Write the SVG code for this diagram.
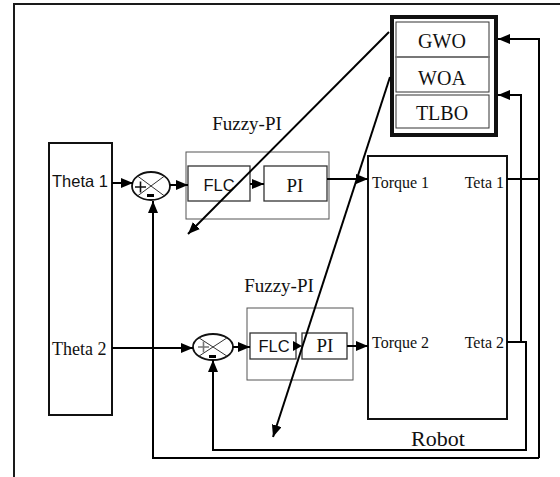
<svg xmlns="http://www.w3.org/2000/svg" width="560" height="477" viewBox="0 0 560 477">
<style>
.serif{font-family:"Liberation Serif","Times New Roman",serif;fill:#111}
.sans{font-family:"Liberation Sans",Arial,sans-serif;fill:#111}
.conn{fill:none;stroke:#000;stroke-width:2}
.box{fill:#fff;stroke:#333;stroke-width:1.3}
.cont{fill:none;stroke:#555;stroke-width:1}
.thick{fill:#fff;stroke:#111;stroke-width:2}
.sum{fill:#fff;stroke:#111;stroke-width:1.8}
.x{stroke:#333;stroke-width:1}
</style>
<defs>
<marker id="ah" viewBox="0 0 12 10" refX="12" refY="5" markerWidth="12" markerHeight="10" markerUnits="userSpaceOnUse" orient="auto">
<path d="M0,0 L12,5 L0,10 z" fill="#000"/>
</marker>
</defs>
<rect width="560" height="477" fill="#fff"/>
<path d="M14,477 V4 H560" fill="none" stroke="#1a1a1a" stroke-width="2"/>

<g id="inputs">
<rect class="thick" x="49" y="143" width="63" height="272"/>
<text class="sans" x="52" y="187" font-size="16.5">Theta 1</text>
<text class="serif" x="52" y="355" font-size="18">Theta 2</text>
</g>

<g id="sum1">
<ellipse class="sum" cx="151" cy="186" rx="19" ry="14"/>
<line class="x" x1="137.6" y1="176.1" x2="164.4" y2="195.9"/>
<line class="x" x1="164.4" y1="176.1" x2="137.6" y2="195.9"/>
<path d="M135,187 H146 M140.5,181.5 V192.5" stroke="#111" stroke-width="1.6"/>
<rect x="147" y="194" width="7" height="3" fill="#000"/>
</g>

<g id="sum2">
<ellipse class="sum" cx="213" cy="347" rx="20" ry="13"/>
<line class="x" x1="198.9" y1="337.8" x2="227.1" y2="356.2"/>
<line class="x" x1="227.1" y1="337.8" x2="198.9" y2="356.2"/>
<path d="M198,347 H209 M203.5,341.5 V352.5" stroke="#777" stroke-width="1.6"/>
<rect x="209" y="355" width="7" height="3" fill="#000"/>
</g>

<g id="fuzzypi1">
<rect class="cont" x="186" y="152" width="143" height="67"/>
<text class="serif" x="247" y="130" font-size="19" text-anchor="middle">Fuzzy-PI</text>
</g>
<g id="flc1">
<rect class="box" x="188" y="166" width="62" height="35"/>
<text class="sans" x="219" y="191" font-size="16.5" text-anchor="middle">FLC</text>
</g>
<g id="pi1">
<rect class="box" x="264" y="166" width="63" height="35"/>
<text class="serif" x="295" y="192" font-size="19" text-anchor="middle">PI</text>
</g>

<g id="fuzzypi2">
<rect class="cont" x="247" y="308" width="106" height="72"/>
<text class="serif" x="279" y="292" font-size="19" text-anchor="middle">Fuzzy-PI</text>
</g>
<g id="flc2">
<rect class="box" x="250" y="333" width="46" height="26"/>
<text class="sans" x="274" y="352" font-size="16.5" text-anchor="middle">FLC</text>
</g>
<g id="pi2">
<rect class="box" x="302" y="333" width="45" height="26"/>
<text class="serif" x="325" y="352" font-size="19" text-anchor="middle">PI</text>
</g>

<g id="robot">
<rect class="thick" x="368" y="156" width="139" height="263"/>
<text class="serif" x="372" y="188" font-size="16">Torque 1</text>
<text class="serif" x="504" y="188" font-size="16" text-anchor="end">Teta 1</text>
<text class="serif" x="372" y="348" font-size="16">Torque 2</text>
<text class="serif" x="504" y="348" font-size="16" text-anchor="end">Teta 2</text>
<text class="serif" x="438" y="446" font-size="22" text-anchor="middle">Robot</text>
</g>

<g id="optimizer">
<rect x="392" y="17" width="104" height="118" fill="#fff" stroke="#111" stroke-width="4"/>
<rect x="396" y="22" width="93" height="35" fill="none" stroke="#333" stroke-width="1"/>
<rect x="396" y="57" width="93" height="35" fill="none" stroke="#333" stroke-width="1"/>
<rect x="396" y="95" width="93" height="33" fill="none" stroke="#333" stroke-width="1"/>
<line x1="396" y1="57" x2="489" y2="57" stroke="#777" stroke-width="2"/>
<text class="serif" x="442" y="48" font-size="20" text-anchor="middle">GWO</text>
<text class="serif" x="442" y="85" font-size="20" text-anchor="middle">WOA</text>
<text class="serif" x="442" y="120" font-size="20" text-anchor="middle">TLBO</text>
</g>

<g id="connectors">
<line class="conn" x1="112" y1="183" x2="133" y2="183" marker-end="url(#ah)"/>
<line class="conn" x1="170" y1="185" x2="188" y2="185" marker-end="url(#ah)"/>
<line class="conn" x1="250" y1="184" x2="264" y2="184" marker-end="url(#ah)"/>
<line class="conn" x1="327" y1="179" x2="368" y2="179" marker-end="url(#ah)"/>
<line class="conn" x1="112" y1="348" x2="193" y2="348" marker-end="url(#ah)"/>
<line class="conn" x1="233" y1="347" x2="250" y2="347" marker-end="url(#ah)"/>
<path d="M293,341 L302,346 L293,351 z" fill="#000"/>
<line class="conn" x1="347" y1="346" x2="368" y2="346" marker-end="url(#ah)"/>
<path class="conn" d="M507,179 H539"/>
<path class="conn" d="M539,458 V39 H498" marker-end="url(#ah)"/>
<path class="conn" d="M539,458 H153 V201" marker-end="url(#ah)"/>
<path class="conn" d="M507,342 H526 V450 H213 V360" marker-end="url(#ah)"/>
<path class="conn" d="M521,342 V95 H498" marker-end="url(#ah)"/>
<line class="conn" x1="389" y1="32" x2="188" y2="234" marker-end="url(#ah)"/>
<line class="conn" x1="390" y1="77" x2="273" y2="437" marker-end="url(#ah)"/>
</g>
</svg>
